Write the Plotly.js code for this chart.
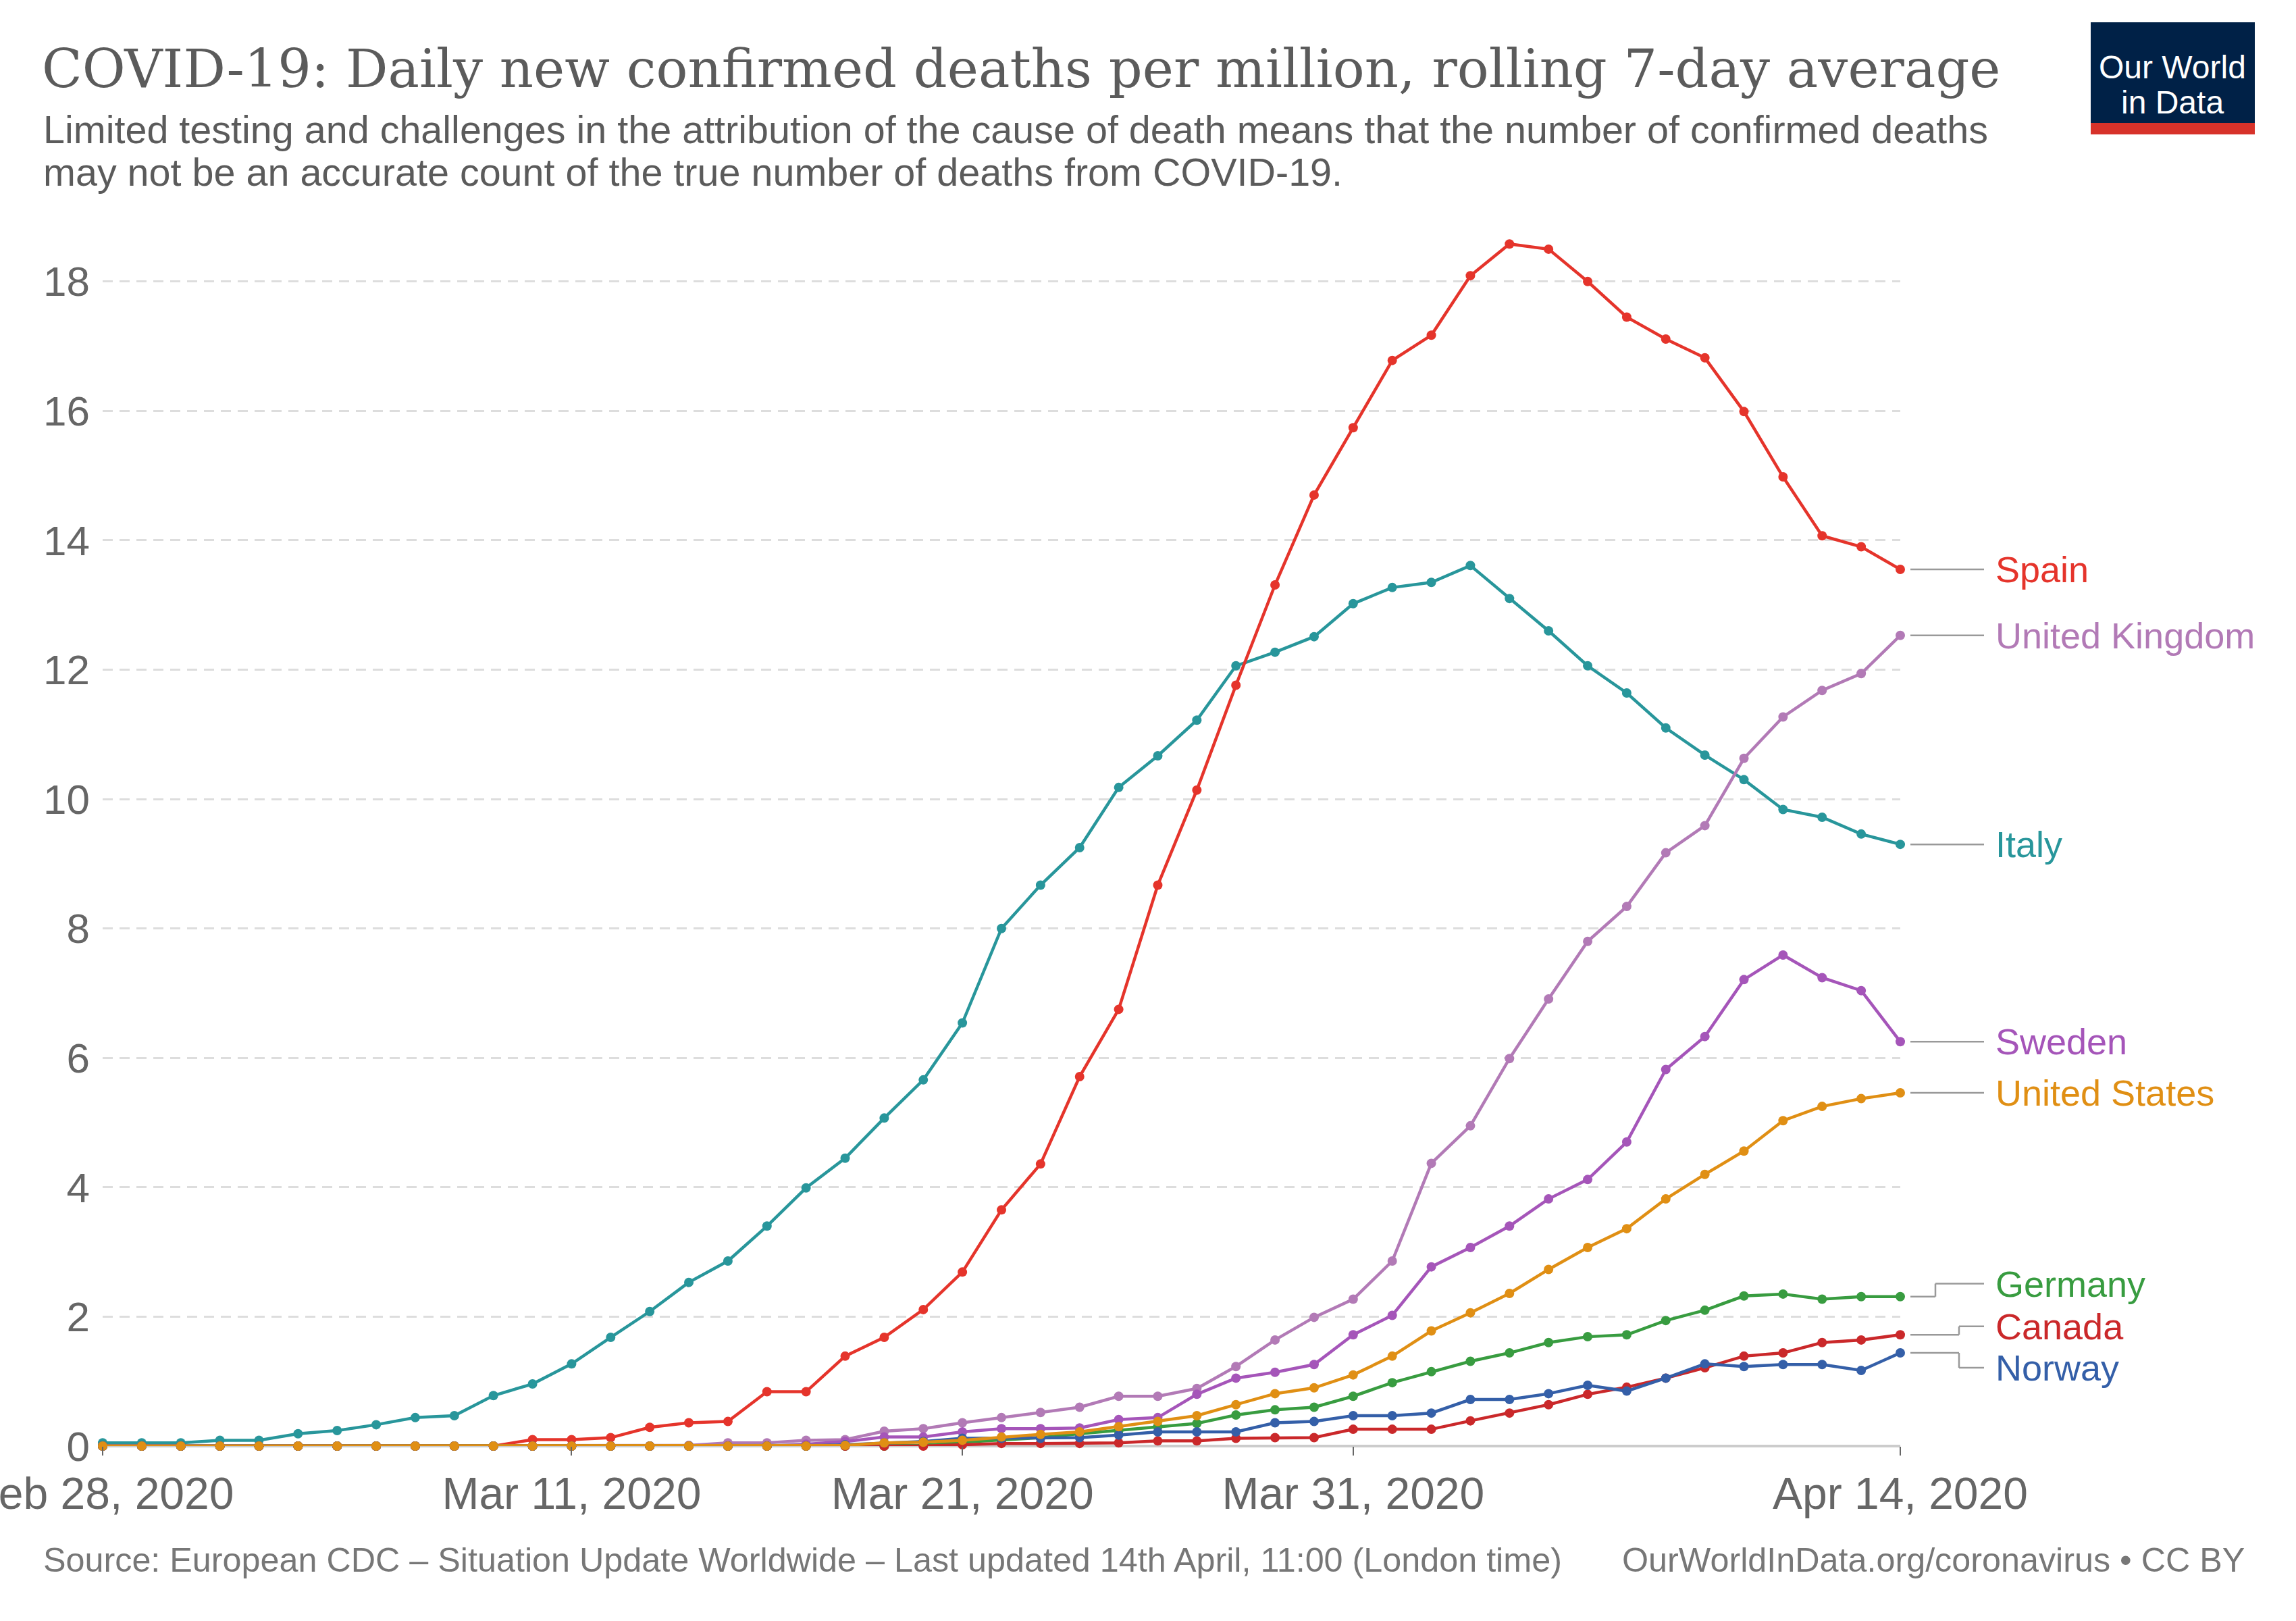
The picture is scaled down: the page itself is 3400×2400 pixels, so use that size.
<!DOCTYPE html>
<html>
<head>
<meta charset="utf-8">
<script src="https://cdn.plot.ly/plotly-3.0.1.min.js"></script>
<style>
  html, body { margin: 0; padding: 0; background: #fff; }
  #chart { width: 3400px; height: 2400px; }
</style>
</head>
<body>
<div id="chart"></div>
<script>
// dates, Feb 28 to Apr 14 2020
const dates = [
  "2020-02-28", "2020-02-29", "2020-03-01", "2020-03-02", "2020-03-03", "2020-03-04",
  "2020-03-05", "2020-03-06", "2020-03-07", "2020-03-08", "2020-03-09", "2020-03-10",
  "2020-03-11", "2020-03-12", "2020-03-13", "2020-03-14", "2020-03-15", "2020-03-16",
  "2020-03-17", "2020-03-18", "2020-03-19", "2020-03-20", "2020-03-21", "2020-03-22",
  "2020-03-23", "2020-03-24", "2020-03-25", "2020-03-26", "2020-03-27", "2020-03-28",
  "2020-03-29", "2020-03-30", "2020-03-31", "2020-04-01", "2020-04-02", "2020-04-03",
  "2020-04-04", "2020-04-05", "2020-04-06", "2020-04-07", "2020-04-08", "2020-04-09",
  "2020-04-10", "2020-04-11", "2020-04-12", "2020-04-13", "2020-04-14"
];

const italy = [0.05, 0.05, 0.05, 0.09, 0.09, 0.19, 0.24, 0.33, 0.44, 0.47, 0.78, 0.96,
  1.27, 1.68, 2.08, 2.53, 2.86, 3.40, 3.99, 4.45, 5.07, 5.66, 6.54, 8.00, 8.67, 9.25,
  10.18, 10.67, 11.22, 12.06, 12.27, 12.51, 13.02, 13.27, 13.35, 13.61, 13.10, 12.60,
  12.06, 11.64, 11.10, 10.68, 10.30, 9.84, 9.72, 9.46, 9.30];

const spain = [0, 0, 0, 0, 0, 0, 0, 0, 0, 0, 0, 0.10, 0.10, 0.13, 0.29, 0.36, 0.38,
  0.84, 0.84, 1.39, 1.68, 2.11, 2.69, 3.65, 4.36, 5.71, 6.75, 8.67, 10.14, 11.76, 13.31,
  14.70, 15.74, 16.78, 17.17, 18.09, 18.58, 18.50, 18.00, 17.45, 17.11, 16.82, 15.99,
  14.98, 14.07, 13.90, 13.55];

const uk = [0, 0, 0, 0, 0, 0, 0, 0, 0, 0, 0, 0, 0, 0, 0, 0.01, 0.05, 0.05, 0.09, 0.10,
  0.23, 0.27, 0.36, 0.44, 0.52, 0.60, 0.77, 0.77, 0.89, 1.23, 1.64, 1.99, 2.27, 2.86,
  4.37, 4.95, 5.99, 6.91, 7.80, 8.34, 9.17, 9.59, 10.63, 11.27, 11.68, 11.94, 12.53];

const sweden = [0, 0, 0, 0, 0, 0, 0, 0, 0, 0, 0, 0, 0, 0, 0, 0, 0, 0, 0.03, 0.07,
  0.14, 0.14, 0.22, 0.27, 0.27, 0.28, 0.41, 0.44, 0.80, 1.05, 1.14, 1.26, 1.72, 2.02,
  2.77, 3.07, 3.40, 3.82, 4.12, 4.70, 5.82, 6.33, 7.21, 7.59, 7.24, 7.04, 6.25];

const unitedStates = [0, 0, 0, 0, 0, 0, 0, 0, 0, 0, 0, 0, 0, 0, 0, 0, 0, 0, 0, 0.01,
  0.05, 0.06, 0.09, 0.14, 0.18, 0.22, 0.30, 0.38, 0.47, 0.64, 0.81, 0.90, 1.10, 1.39,
  1.78, 2.06, 2.36, 2.73, 3.07, 3.36, 3.82, 4.20, 4.56, 5.03, 5.25, 5.37, 5.46];

const germany = [0, 0, 0, 0, 0, 0, 0, 0, 0, 0, 0, 0, 0, 0, 0, 0, 0, 0, 0, 0, 0, 0.01,
  0.06, 0.09, 0.13, 0.19, 0.24, 0.30, 0.35, 0.48, 0.56, 0.60, 0.77, 0.98, 1.15, 1.31,
  1.44, 1.60, 1.69, 1.72, 1.94, 2.10, 2.32, 2.35, 2.27, 2.31, 2.31];

const canada = [0, 0, 0, 0, 0, 0, 0, 0, 0, 0, 0, 0, 0, 0, 0, 0, 0, 0, 0, 0, 0, 0,
  0.02, 0.04, 0.04, 0.04, 0.05, 0.08, 0.08, 0.12, 0.13, 0.13, 0.26, 0.26, 0.26, 0.39,
  0.51, 0.64, 0.80, 0.91, 1.05, 1.21, 1.39, 1.44, 1.60, 1.64, 1.72];

const norway = [0, 0, 0, 0, 0, 0, 0, 0, 0, 0, 0, 0, 0, 0, 0, 0, 0, 0, 0, 0.02, 0.05,
  0.07, 0.12, 0.12, 0.12, 0.13, 0.17, 0.22, 0.22, 0.22, 0.36, 0.38, 0.47, 0.47, 0.51,
  0.72, 0.72, 0.81, 0.94, 0.85, 1.05, 1.27, 1.23, 1.26, 1.26, 1.17, 1.44];

const tickDates = ["2020-02-28", "2020-03-11", "2020-03-21", "2020-03-31", "2020-04-14"];
const tickLabels = ["Feb 28, 2020", "Mar 11, 2020", "Mar 21, 2020", "Mar 31, 2020", "Apr 14, 2020"];
const yTicks = [0, 2, 4, 6, 8, 10, 12, 14, 16, 18];

// drawing order, last one on top
const series = [
  { name: "Italy", y: italy, color: "#28969b" },
  { name: "United Kingdom", y: uk, color: "#b27ab6" },
  { name: "Spain", y: spain, color: "#e5342b" },
  { name: "Sweden", y: sweden, color: "#a555b9" },
  { name: "Germany", y: germany, color: "#389c40" },
  { name: "Canada", y: canada, color: "#ca282a" },
  { name: "Norway", y: norway, color: "#345fa8" },
  { name: "United States", y: unitedStates, color: "#e08f14" }
];

// labels pushed off their line end (value units), and x of the elbow in px
const labelShift = { "Germany": 0.2, "Canada": 0.13, "Norway": -0.23 };
const elbowAt = { "Germany": 2866, "Canada": 2901, "Norway": 2901 };

// plot box in pixels
const L = 152, T = 321, W = 2662, H = 1820;
const px = x => (x - L) / W;
const py = y => (T + H - y) / H;

const grey = "#5b5b5b";
const sans = "Liberation Sans, Arial, sans-serif";
const connector = { color: "#999", width: 2.5 };

const data = series.map(s => ({
  type: "scatter",
  mode: "lines+markers",
  x: dates,
  y: s.y,
  name: s.name,
  cliponaxis: false,
  line: { color: s.color, width: 4.5 },
  marker: { color: s.color, size: 14 }
}));

const shapes = [];
const annotations = [];

series.forEach(s => {
  const last = s.y[s.y.length - 1];
  const ly = last + (labelShift[s.name] || 0);
  const x0 = px(2829), x2 = px(2938);
  if (labelShift[s.name]) {
    const xe = px(elbowAt[s.name]);
    shapes.push({ type: "line", xref: "paper", yref: "y", x0: x0, x1: xe, y0: last, y1: last, line: connector });
    shapes.push({ type: "line", xref: "paper", yref: "y", x0: xe, x1: xe, y0: last, y1: ly, line: connector });
    shapes.push({ type: "line", xref: "paper", yref: "y", x0: xe, x1: x2, y0: ly, y1: ly, line: connector });
  } else {
    shapes.push({ type: "line", xref: "paper", yref: "y", x0: x0, x1: x2, y0: last, y1: last, line: connector });
  }
  annotations.push({
    xref: "paper", yref: "y", x: px(2953), y: ly,
    xanchor: "left", yanchor: "middle", showarrow: false,
    text: s.name, font: { family: sans, size: 54, color: s.color }
  });
});

// logo
shapes.push({ type: "rect", xref: "paper", yref: "paper", x0: px(3096), x1: px(3339), y0: py(182), y1: py(33), fillcolor: "#002147", line: { width: 0 } });
shapes.push({ type: "rect", xref: "paper", yref: "paper", x0: px(3096), x1: px(3339), y0: py(199), y1: py(182), fillcolor: "#d7322a", line: { width: 0 } });
annotations.push({ xref: "paper", yref: "paper", x: px(3217), y: py(100), xanchor: "center", yanchor: "middle", showarrow: false, text: "Our World", font: { family: sans, size: 48, color: "#fff" } });
annotations.push({ xref: "paper", yref: "paper", x: px(3217), y: py(151), xanchor: "center", yanchor: "middle", showarrow: false, text: "in Data", font: { family: sans, size: 48, color: "#fff" } });

// title, subtitle, footer
annotations.push({ xref: "paper", yref: "paper", x: px(60), y: py(102), xanchor: "left", yanchor: "middle", showarrow: false,
  text: "COVID-19: Daily new confirmed deaths per million, rolling 7-day average",
  font: { family: "DejaVu Serif, serif", size: 78, color: grey } });
annotations.push({ xref: "paper", yref: "paper", x: px(62), y: py(192), xanchor: "left", yanchor: "middle", showarrow: false,
  text: "Limited testing and challenges in the attribution of the cause of death means that the number of confirmed deaths",
  font: { family: sans, size: 57.5, color: grey } });
annotations.push({ xref: "paper", yref: "paper", x: px(62), y: py(255), xanchor: "left", yanchor: "middle", showarrow: false,
  text: "may not be an accurate count of the true number of deaths from COVID-19.",
  font: { family: sans, size: 57.5, color: grey } });
annotations.push({ xref: "paper", yref: "paper", x: px(62), y: py(2309), xanchor: "left", yanchor: "middle", showarrow: false,
  text: "Source: European CDC \u2013 Situation Update Worldwide \u2013 Last updated 14th April, 11:00 (London time)",
  font: { family: sans, size: 50.3, color: "#777" } });
annotations.push({ xref: "paper", yref: "paper", x: px(3326), y: py(2309), xanchor: "right", yanchor: "middle", showarrow: false,
  text: "OurWorldInData.org/coronavirus \u2022 CC BY",
  font: { family: sans, size: 50.3, color: "#777" } });

const layout = {
  width: 3400,
  height: 2400,
  margin: { l: L, r: 3400 - L - W, t: T, b: 2400 - T - H },
  paper_bgcolor: "#fff",
  plot_bgcolor: "#fff",
  showlegend: false,
  font: { family: sans, color: "#666" },
  xaxis: {
    type: "date",
    range: ["2020-02-28", "2020-04-14"],
    tickmode: "array",
    tickvals: tickDates,
    ticktext: tickLabels,
    tickfont: { size: 66, color: "#666" },
    ticklabeloverflow: "allow",
    ticks: "outside",
    ticklen: 13,
    tickwidth: 2,
    tickcolor: "#666",
    showgrid: false,
    showline: false,
    zeroline: false
  },
  yaxis: {
    range: [0, 19],
    tickmode: "array",
    tickvals: yTicks,
    tickfont: { size: 62, color: "#666" },
    ticklabelstandoff: 18,
    showgrid: true,
    gridcolor: "#dddddd",
    gridwidth: 3,
    griddash: "15px,10px",
    zeroline: true,
    zerolinecolor: "#cccccc",
    zerolinewidth: 4,
    showline: false
  },
  shapes: shapes,
  annotations: annotations
};

Plotly.newPlot("chart", data, layout, { staticPlot: true, displayModeBar: false });
</script>
</body>
</html>
